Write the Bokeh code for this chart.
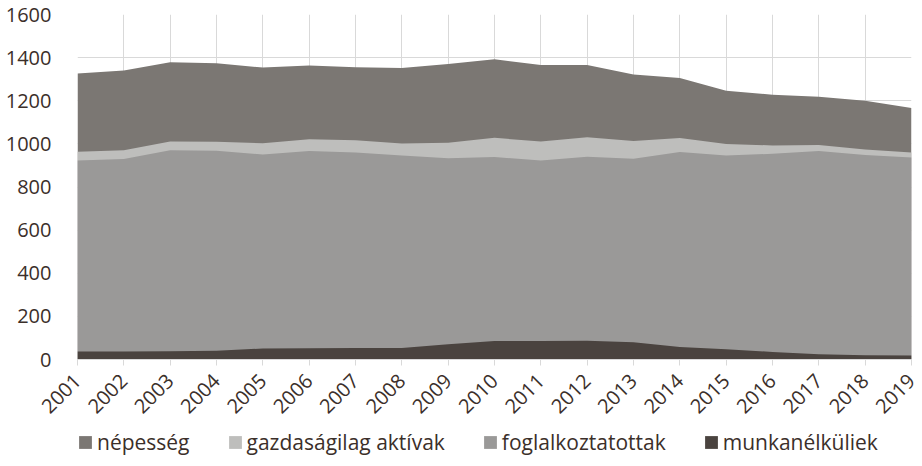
import math
from bokeh.plotting import figure
from bokeh.layouts import column
from bokeh.models import Legend, LegendItem, FixedTicker, Range1d
from bokeh.embed import file_html
from bokeh.resources import INLINE

years = list(range(2001, 2020))
nepesseg = [1326, 1340, 1378, 1374, 1354, 1363, 1355, 1352, 1371, 1392,
            1366, 1366, 1322, 1306, 1246, 1228, 1218, 1200, 1166]
aktivak = [963, 970, 1011, 1010, 1003, 1022, 1017, 1002, 1005, 1028,
           1011, 1031, 1013, 1027, 999, 993, 995, 974, 960]
foglalkoztatottak = [923, 930, 971, 968, 951, 967, 960, 946, 933, 939,
                     923, 940, 931, 962, 946, 954, 967, 948, 937]
munkanelkuliek = [37, 37, 38, 41, 51, 52, 53, 53, 71, 86,
                  86, 87, 80, 58, 47, 35, 24, 20, 18]
y_ticks = [0, 200, 400, 600, 800, 1000, 1200, 1400, 1600]

names = ["népesség", "gazdaságilag aktívak", "foglalkoztatottak", "munkanélküliek"]
colors = ["#7B7773", "#BEBEBC", "#9A9998", "#4A433F"]
series = [nepesseg, aktivak, foglalkoztatottak, munkanelkuliek]

FONT = "Open Sans"
TXT = "#3B2F2A"

p = figure(output_backend="svg", toolbar_location=None,
           width=922, height=422,
           min_border_left=77, min_border_top=14, min_border_right=11, min_border_bottom=61,
           x_range=Range1d(2001, 2019), y_range=Range1d(0, 1600))
p.outline_line_color = None
p.background_fill_color = "white"

for s, c in zip(series, colors):
    p.varea(x=years, y1=[0] * len(years), y2=s, fill_color=c)

p.xaxis.ticker = FixedTicker(ticks=years)
p.yaxis.ticker = FixedTicker(ticks=y_ticks)
p.xgrid.ticker = FixedTicker(ticks=years)
p.grid.grid_line_color = "#D9D9D9"
p.grid.grid_line_width = 1
p.grid.level = "underlay"

p.yaxis.axis_line_color = None
p.yaxis.major_tick_line_color = None
p.yaxis.minor_tick_line_color = None
p.yaxis.major_label_standoff = 20
p.xaxis.axis_line_color = "#D9D9D9"
p.xaxis.major_tick_line_color = "#D9D9D9"
p.xaxis.major_tick_out = 6
p.xaxis.major_tick_in = 0
p.xaxis.minor_tick_line_color = None
p.xaxis.major_label_orientation = math.pi / 4
p.xaxis.major_label_standoff = 12
for ax in (p.xaxis, p.yaxis):
    ax.major_label_text_font = FONT
    ax.major_label_text_font_size = "20px"
    ax.major_label_text_color = TXT

# legend strip under the chart (its areas lie outside its ranges, only the legend shows)
lf = figure(output_backend="svg", toolbar_location=None, width=922, height=44,
            x_axis_location=None, y_axis_location=None,
            min_border_left=0, min_border_right=0, min_border_top=0, min_border_bottom=0,
            x_range=Range1d(0, 1), y_range=Range1d(0, 1))
lf.outline_line_color = None
lf.grid.visible = False
swatches = [lf.varea(x=years, y1=[0] * len(years), y2=s, fill_color=c)
            for s, c in zip(series, colors)]
legend = Legend(items=[LegendItem(label=n, renderers=[r]) for n, r in zip(names, swatches)],
                orientation="horizontal", location=(0, 10),
                label_text_font=FONT, label_text_font_size="21px", label_text_color=TXT,
                glyph_width=16, glyph_height=16, label_standoff=4, spacing=37,
                border_line_color=None, background_fill_alpha=0, padding=4, margin=0)
lf.add_layout(legend, "center")

layout = column(p, lf, spacing=0)
open("out.html", "w").write(file_html(layout, INLINE))
